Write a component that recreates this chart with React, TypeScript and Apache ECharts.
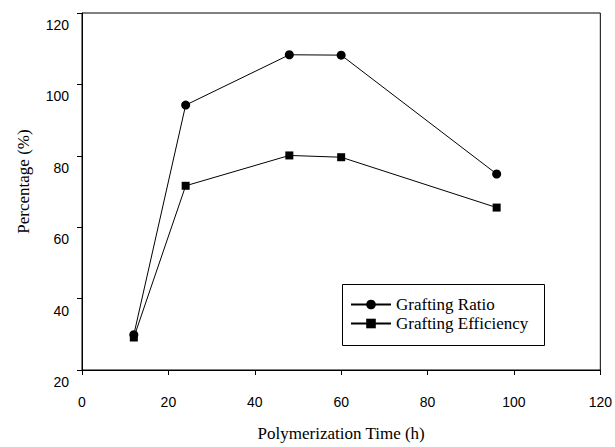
import React, { useEffect, useRef } from "react";
import * as echarts from "echarts";

const times = [12, 24, 48, 60, 96];
const graftingRatio = [29.9, 94.2, 108.3, 108.2, 74.9];
const graftingEfficiency = [29.1, 71.6, 80.1, 79.6, 65.5];
const xTicks = [0, 20, 40, 60, 80, 100, 120];
const yTicks = [20, 40, 60, 80, 100, 120];

export default function App() {
  const ref = useRef<HTMLDivElement>(null);
  useEffect(() => {
    if (!ref.current) return;
    const chart = echarts.init(ref.current, null, { renderer: "svg" });
    const sans = "Liberation Sans";
    const serif = "Liberation Serif";
    chart.setOption({
      animation: false,
      backgroundColor: "#fff",
      grid: {
        left: 82,
        top: 13,
        right: 13,
        bottom: 72,
        show: true,
        borderColor: "#000",
        borderWidth: 1,
      },
      xAxis: {
        type: "value",
        min: xTicks[0],
        max: xTicks[xTicks.length - 1],
        interval: 20,
        name: "Polymerization Time (h)",
        nameLocation: "middle",
        nameGap: 55,
        nameTextStyle: { fontFamily: serif, fontSize: 17, color: "#000", verticalAlign: "top" },
        axisLine: { lineStyle: { color: "#000", width: 1 } },
        axisTick: { show: true, inside: false, length: 5, lineStyle: { color: "#000" } },
        axisLabel: { fontFamily: sans, fontSize: 14, color: "#000", margin: 25 },
        splitLine: { show: false },
      },
      yAxis: {
        type: "value",
        min: yTicks[0],
        max: yTicks[yTicks.length - 1],
        interval: 20,
        name: "Percentage (%)",
        nameLocation: "middle",
        nameGap: 50,
        nameRotate: 90,
        nameTextStyle: { fontFamily: serif, fontSize: 17, color: "#000", padding: [0, 0, 0, 20] },
        axisLine: { show: true, lineStyle: { color: "#000", width: 1 } },
        axisTick: { show: true, inside: false, length: 5, lineStyle: { color: "#000" } },
        axisLabel: {
          fontFamily: sans,
          fontSize: 14,
          color: "#000",
          margin: 13,
          verticalAlign: "top",
          padding: [5, 0, 0, 0],
        },
        splitLine: { show: false },
      },
      legend: {
        orient: "vertical",
        left: 350,
        top: 296,
        itemWidth: 40,
        itemHeight: 12,
        itemGap: 2,
        padding: 0,
        textStyle: { fontFamily: serif, fontSize: 17, color: "#000" },
        data: ["Grafting Ratio", "Grafting Efficiency"],
      },
      graphic: [
        {
          type: "rect",
          left: 340,
          top: 282,
          shape: { width: 202, height: 61 },
          style: { fill: "none", stroke: "#000", lineWidth: 1 },
          z: 10,
        },
      ],
      series: [
        {
          name: "Grafting Ratio",
          type: "line",
          data: times.map((t, i) => [t, graftingRatio[i]]),
          symbol: "circle",
          symbolSize: 9,
          itemStyle: { color: "#000" },
          lineStyle: { color: "#000", width: 1 },
        },
        {
          name: "Grafting Efficiency",
          type: "line",
          data: times.map((t, i) => [t, graftingEfficiency[i]]),
          symbol: "rect",
          symbolSize: 8,
          itemStyle: { color: "#000" },
          lineStyle: { color: "#000", width: 1 },
        },
      ],
    });
    return () => chart.dispose();
  }, []);
  return <div ref={ref} style={{ width: 615, height: 447, position: "absolute", left: 0, top: 0 }} />;
}
